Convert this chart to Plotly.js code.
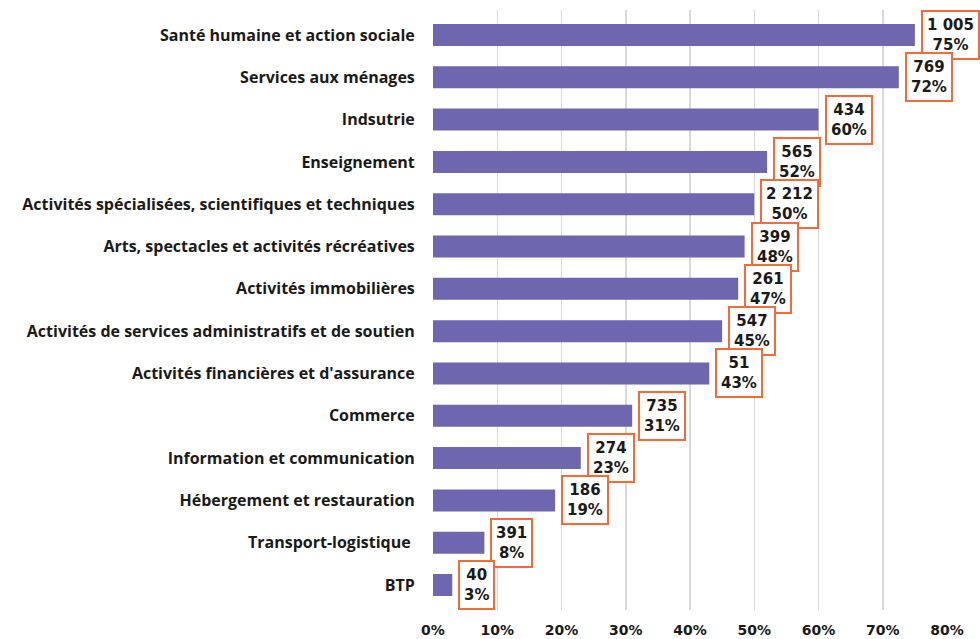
<!DOCTYPE html>
<html>
<head>
<meta charset="utf-8">
<script src="https://cdn.plot.ly/plotly-3.0.1.min.js"></script>
<style>html,body{margin:0;padding:0;background:#fff;}#chart{width:980px;height:639px;}</style>
</head>
<body>
<div id="chart"></div>
<script>
const categories = [
  "Santé humaine et action sociale",
  "Services aux ménages",
  "Indsutrie",
  "Enseignement",
  "Activités spécialisées, scientifiques et techniques",
  "Arts, spectacles et activités récréatives",
  "Activités immobilières",
  "Activités de services administratifs et de soutien",
  "Activités financières et d'assurance",
  "Commerce",
  "Information et communication",
  "Hébergement et restauration",
  "Transport-logistique ",
  "BTP"
];
const shares = [0.75, 0.725, 0.60, 0.52, 0.50, 0.485, 0.475, 0.45, 0.43, 0.31, 0.23, 0.19, 0.08, 0.03];
const pctLabels = ["75%", "72%", "60%", "52%", "50%", "48%", "47%", "45%", "43%", "31%", "23%", "19%", "8%", "3%"];
const counts = ["1 005", "769", "434", "565", "2 212", "399", "261", "547", "51", "735", "274", "186", "391", "40"];
const xTicks = [0, 0.1, 0.2, 0.3, 0.4, 0.5, 0.6, 0.7, 0.8];

const annotations = categories.map((c, i) => ({
  x: shares[i], y: c, xref: 'x', yref: 'y',
  xanchor: 'left', yanchor: 'middle', xshift: 6,
  text: counts[i] + '<br>' + pctLabels[i],
  showarrow: false,
  bgcolor: '#ffffff', bordercolor: '#F26B38', borderwidth: 2, borderpad: 4,
  font: {family: 'DejaVu Sans', size: 15, color: '#1a1a1a', weight: 700},
  align: 'center'
}));

const trace = {
  type: 'bar', orientation: 'h',
  x: shares, y: categories,
  marker: {color: '#6F66B0'},
  width: 0.52,
  hoverinfo: 'skip'
};

const layout = {
  width: 980, height: 639,
  margin: {l: 433, r: 33, t: 10, b: 29},
  paper_bgcolor: '#ffffff', plot_bgcolor: '#ffffff',
  showlegend: false,
  xaxis: {
    range: [0, 0.8], tickvals: xTicks, tickformat: '.0%',
    showgrid: true, gridcolor: '#d9d9d9', gridwidth: 1.5,
    zeroline: false, showline: false,
    ticks: 'outside', ticklen: 7, tickcolor: 'rgba(0,0,0,0)',
    automargin: false,
    tickfont: {family: 'DejaVu Sans', size: 14, color: '#1a1a1a', weight: 700},
    fixedrange: true
  },
  yaxis: {
    autorange: 'reversed', type: 'category',
    showgrid: false, zeroline: false, showline: false,
    ticks: 'outside', ticklen: 14, tickcolor: 'rgba(0,0,0,0)',
    automargin: false,
    tickfont: {family: 'Open Sans', size: 16, color: '#1a1a1a', weight: 700},
    fixedrange: true
  },
  annotations: annotations
};

Plotly.newPlot('chart', [trace], layout, {displayModeBar: false, staticPlot: true});
</script>
</body>
</html>
